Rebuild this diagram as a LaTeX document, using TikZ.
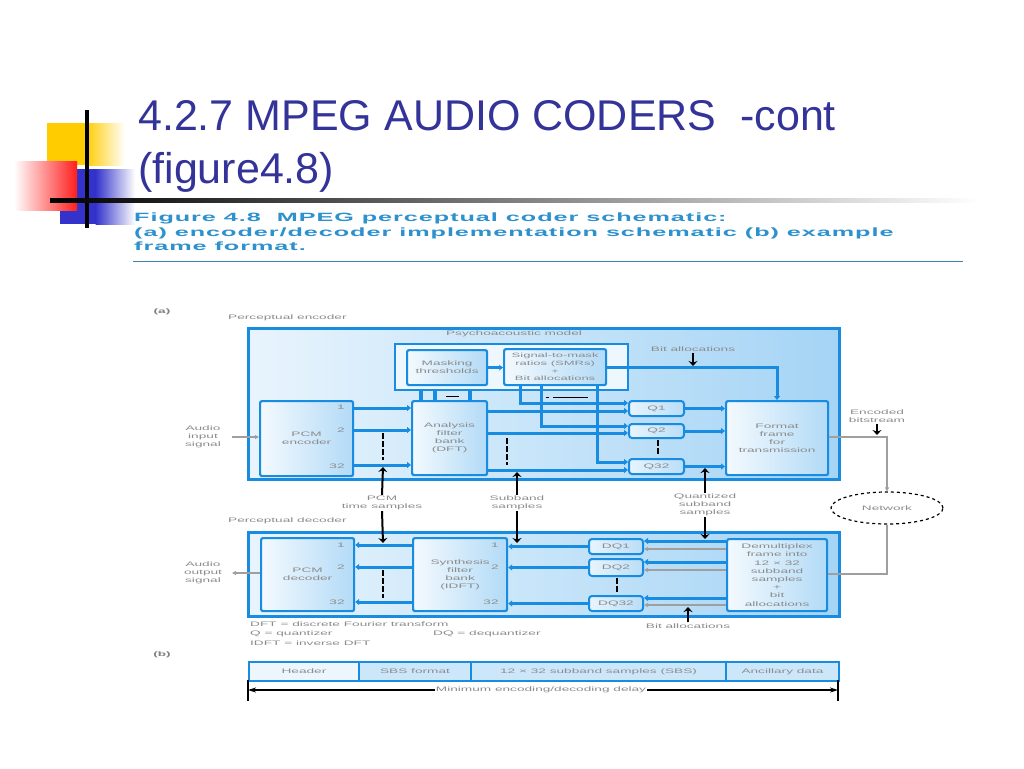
\documentclass[tikz,border=0pt]{standalone}
\usepackage{fontspec}
\setmainfont{Liberation Sans}
\newfontfamily\dfont[FakeStretch=2.1]{Liberation Sans}
\newfontfamily\cfont[FakeStretch=2.1,LetterSpace=8]{Liberation Sans Bold}
\usetikzlibrary{arrows.meta,shapes.geometric}
\definecolor{titleblue}{RGB}{51,51,153}
\definecolor{capblue}{RGB}{45,145,205}
\definecolor{capline}{RGB}{60,130,170}
\definecolor{dblue}{RGB}{23,140,225}
\definecolor{lblue}{RGB}{232,244,253}
\definecolor{mblue}{RGB}{165,212,245}
\definecolor{txtgray}{RGB}{140,140,140}
\definecolor{yellowc}{RGB}{255,204,0}
\definecolor{redc}{RGB}{255,30,30}
\definecolor{bluec}{RGB}{51,51,204}
\begin{document}
\begin{tikzpicture}[x=1pt,y=-1pt,
  dtext/.style={font=\dfont\fontsize{6.5}{8}\selectfont, text=txtgray, align=center, inner sep=1pt},
  outerbox/.style={draw=dblue, line width=2.6pt, left color=lblue, right color=mblue, inner sep=0pt, anchor=north west},
  blk/.style={draw=dblue, line width=2.2pt, rounded corners=2pt, left color=lblue!50!white, right color=mblue!80!lblue, inner sep=0pt, anchor=north west, dtext},
  qbox/.style={draw=dblue, line width=2pt, rounded corners=3pt, left color=lblue, right color=mblue!70!lblue, inner sep=0pt, anchor=north west, dtext},
  fbox/.style={draw=dblue, line width=2pt, fill=lblue!60!mblue, inner sep=0pt, anchor=north west, minimum height=19pt, dtext},
  bl/.style={draw=dblue, line width=3pt},
  tri/.tip={Triangle[length=4pt,width=6pt]},
  gl/.style={draw=gray!75, line width=1.3pt},
  gtri/.tip={Triangle[length=4pt,width=4pt]},
  dsh/.style={draw=black, line width=2.2pt, dash pattern=on 6pt off 2pt},
  barr/.style={draw=black, line width=2pt, -{Stealth[length=5pt,width=9pt]}}
]
\useasboundingbox (0,0) rectangle (1024,768);
\fill[white] (0,0) rectangle (1024,768);
% decoration
\fill[yellowc] (47,123) rectangle (86,165);
\shade[left color=yellowc, right color=white] (85.5,123) rectangle (125,165);
\fill[bluec] (60,169) rectangle (96,224);
\shade[left color=bluec, right color=white] (95.5,169) rectangle (135,224);
\shade[left color=white, right color=redc] (14,161) rectangle (77,210);
\draw[line width=4pt] (87,110) -- (87,228);
\shade[left color=black, right color=white, middle color=gray] (50,198) rectangle (980,202);
% title
\node[anchor=base west, inner sep=0pt, font=\fontsize{43}{50}\selectfont, text=titleblue] (t1) at (138,130) {4.2.7 MPEG AUDIO CODERS\ \ -cont};
\node[anchor=base west, inner sep=0pt, font=\fontsize{43}{50}\selectfont, text=titleblue] (t2) at (138,183) {(figure4.8)};
% caption
\node[anchor=north west, align=left, inner sep=0pt, font=\cfont\fontsize{12}{14.5}\selectfont, text=capblue] (cap) at (134,213)
  {Figure 4.8\ \ MPEG perceptual coder schematic:\\(a) encoder/decoder implementation schematic (b) example\\frame format.};
\draw[capline, line width=1pt] (133,261) -- (963,261);

% ---------- (a) ----------
\node[dtext, font=\dfont\bfseries\fontsize{6.5}{8}\selectfont, text=gray] (la) at (162,312) {(a)};
\node[dtext, anchor=west] (lenc) at (227,318) {Perceptual encoder};
\node[outerbox, minimum width=591pt, minimum height=151pt] (enc) at (247,327) {};
\node[dtext] (lpsy) at (514,334) {Psychoacoustic model};
\node[draw=dblue, line width=1.8pt, fill=lblue!70!white, anchor=north west, minimum width=233pt, minimum height=46pt, inner sep=0pt] (psy) at (394,343) {};
\node[blk, minimum width=80pt, minimum height=35pt] (msk) at (406,349) {Masking\\thresholds};
\node[blk, minimum width=102pt, minimum height=36pt, font=\dfont\fontsize{6.2}{7.6}\selectfont] (smr) at (503,348) {Signal-to-mask\\ratios (SMRs)\\+\\Bit allocations};
\node[blk, minimum width=75pt, minimum height=74pt] (ana) at (411,400) {Analysis\\filter\\bank\\(DFT)};
\node[blk, minimum width=93pt, minimum height=75pt] (pcme) at (259,400) {PCM\\encoder};
\node[dtext] at (341,407) {1};
\node[dtext] at (341,430) {2};
\node[dtext] at (337,466) {32};
\node[qbox, minimum width=55pt, minimum height=15pt] (q1) at (628,400) {Q1};
\node[qbox, minimum width=55pt, minimum height=14pt] (q2) at (628,423) {Q2};
\node[qbox, minimum width=55pt, minimum height=15pt] (q32) at (628,458) {Q32};
\node[blk, minimum width=102pt, minimum height=74pt] (fmt) at (725,400) {Format\\frame\\for\\transmission};

% encoder connectors
\draw[bl,-{Stealth[length=4pt,width=6pt]}] (msk.east) -- (smr.west |- msk.east);
\foreach \y in {408,430,465} \draw[bl,-tri] (pcme.east |- 0,\y) -- (ana.west |- 0,\y);
\foreach \x in {421,435,470} \draw[bl,line width=4pt] (psy.south -| \x,0) -- (ana.north -| \x,0);
\draw[black,line width=0.8pt] (446,396) -- (459,396);
\draw[bl,-tri] (smr.south -| 520,0) |- (q1.west |- 0,403);
\draw[bl,-tri] (smr.south -| 541,0) |- (q2.west |- 0,426);
\draw[bl,-tri] (smr.south -| 597,0) |- (q32.west |- 0,462);
\draw[black,line width=0.8pt] (546,397) -- (549,397) (553,397) -- (588,397);
\draw[bl,-tri] (ana.east |- 0,411) -- (q1.west |- 0,411);
\draw[bl,-tri] (ana.east |- 0,433) -- (q2.west |- 0,433);
\draw[bl,-tri] (ana.east |- 0,470) -- (q32.west |- 0,470);
\draw[bl,-tri] (q1.east) -- (fmt.west |- q1.east);
\draw[bl,-tri] (q2.east) -- (fmt.west |- q2.east);
\draw[bl,-tri] (q32.east) -- (fmt.west |- q32.east);
\draw[bl,-tri] (smr.east |- 0,367) -| (fmt.north -| 777,0);
\node[dtext] (lbae) at (693,349) {Bit allocations};
\coordinate (bae) at (693,366);
\draw[barr] (lbae.south) -- (bae);
\draw[dsh] (383,433) -- (383,460);
\draw[dsh] (507,438) -- (507,465);
\draw[dsh] (658,440) -- (658,455);

% input / output / network
\node[dtext] (ain) at (203,437) {Audio\\input\\signal};
\coordinate (ainp) at (232,437);
\draw[gl,-gtri] (ainp) -- (pcme.west |- ainp);
\node[dtext] (lenb) at (877,416) {Encoded\\bitstream};
\node[ellipse, draw=black, dashed, line width=1.2pt, minimum width=112pt, minimum height=32pt, dtext] (net) at (887,508) {Network};
\draw[gl,-gtri] (fmt.east |- 0,437) -| (net.north);
\coordinate (enb) at (877,435);
\draw[barr] (lenb.south) -- (enb);

% labels between
\node[dtext] (pts) at (382,503) {PCM\\time samples};
\node[dtext] (sbs) at (517,503) {Subband\\samples};
\node[dtext] (qss) at (705,505) {Quantized\\subband\\samples};

% ---------- decoder ----------
\node[dtext, anchor=west] (ldec) at (227,521) {Perceptual decoder};
\node[outerbox, minimum width=591pt, minimum height=84pt] (dec) at (247,531) {};
\node[blk, minimum width=93pt, minimum height=73pt] (pcmd) at (260,537) {PCM\\decoder};
\node[dtext] at (341,545) {1};
\node[dtext] at (341,567) {2};
\node[dtext] at (337,602) {32};
\node[blk, minimum width=94pt, minimum height=73pt] (syn) at (412,537) {Synthesis\\filter\\bank\\(IDFT)};
\node[dtext] at (495,545) {1};
\node[dtext] at (495,567) {2};
\node[dtext] at (491,602) {32};
\node[qbox, minimum width=54pt, minimum height=15pt] (dq1) at (588,538) {DQ1};
\node[qbox, minimum width=54pt, minimum height=17pt] (dq2) at (588,558) {DQ2};
\node[qbox, minimum width=54pt, minimum height=15pt] (dq32) at (588,595) {DQ32};
\node[blk, minimum width=100pt, minimum height=72pt, font=\dfont\fontsize{6.5}{8.2}\selectfont] (dmx) at (726,538) {Demultiplex\\frame into\\12 × 32\\subband\\samples\\+\\bit\\allocations};

\foreach \n/\y in {dq1/541,dq2/562,dq32/598} \draw[bl,-tri] (dmx.west |- 0,\y) -- (\n.east |- 0,\y);
\foreach \n/\y in {dq1/549,dq2/570,dq32/605} \draw[gl,-gtri] (dmx.west |- 0,\y) -- (\n.east |- 0,\y);
\foreach \n in {dq1,dq2,dq32} \draw[bl,-tri] (\n.west) -- (syn.east |- \n.west);
\foreach \y in {545,567,602} \draw[bl,-tri] (syn.west |- 0,\y) -- (pcmd.east |- 0,\y);
\draw[dsh] (383,570) -- (383,598);
\draw[dsh] (617,578) -- (617,592);
\draw[gl] (net.south) |- (dmx.east |- 0,574);
\node[dtext] (aout) at (203,573) {Audio\\output\\signal};
\coordinate (aoutp) at (232,573);
\draw[gl,-gtri] (pcmd.west |- aoutp) -- (aoutp);

% black label arrows
\coordinate (pe) at (383,467); \coordinate (pd) at (383,543);
\coordinate (se) at (517,472); \coordinate (sd) at (517,543);
\coordinate (qe) at (705,468); \coordinate (qd) at (705,539);
\draw[barr] (pts.north) -- (pe);
\draw[barr] (pts.south) -- (pd);
\draw[barr] (sbs.north) -- (se);
\draw[barr] (sbs.south) -- (sd);
\draw[barr] (qss.north) -- (qe);
\draw[barr] (qss.south) -- (qd);
\node[dtext] (lbad) at (688,626) {Bit allocations};
\coordinate (bad) at (688,607);
\draw[barr] (lbad.north) -- (bad);

% legend
\node[dtext, anchor=west] (lg1) at (249,624) {DFT = discrete Fourier transform};
\node[dtext, anchor=west] (lg2) at (249,633.5) {Q = quantizer};
\node[dtext, anchor=west] (lg3) at (432,633.5) {DQ = dequantizer};
\node[dtext, anchor=west] (lg4) at (249,643) {IDFT = inverse DFT};

% ---------- (b) ----------
\node[dtext, font=\dfont\bfseries\fontsize{6.5}{8}\selectfont, text=gray] (lb) at (162,655) {(b)};
\node[fbox, minimum width=110pt, fill=lblue!80!white] (f1) at (248,661) {Header};
\node[fbox, minimum width=112pt] (f2) at (358,661) {SBS format};
\node[fbox, minimum width=255pt] (f3) at (470,661) {12 × 32 subband samples (SBS)};
\node[fbox, minimum width=113pt] (f4) at (725,661) {Ancillary data};
\node[dtext, fill=white] (dly) at (541,690) {Minimum encoding/decoding delay};
\coordinate (dl) at (248,690); \coordinate (dr) at (838,690);
\draw[black, line width=1.8pt, -{Stealth[length=8pt,width=5pt]}] (dly.west) -- (dl);
\draw[black, line width=1.8pt, -{Stealth[length=8pt,width=5pt]}] (dly.east) -- (dr);
\draw[black, line width=2.2pt] (248,680) -- (248,701);
\draw[black, line width=2.2pt] (838,680) -- (838,701);
\end{tikzpicture}
\end{document}
